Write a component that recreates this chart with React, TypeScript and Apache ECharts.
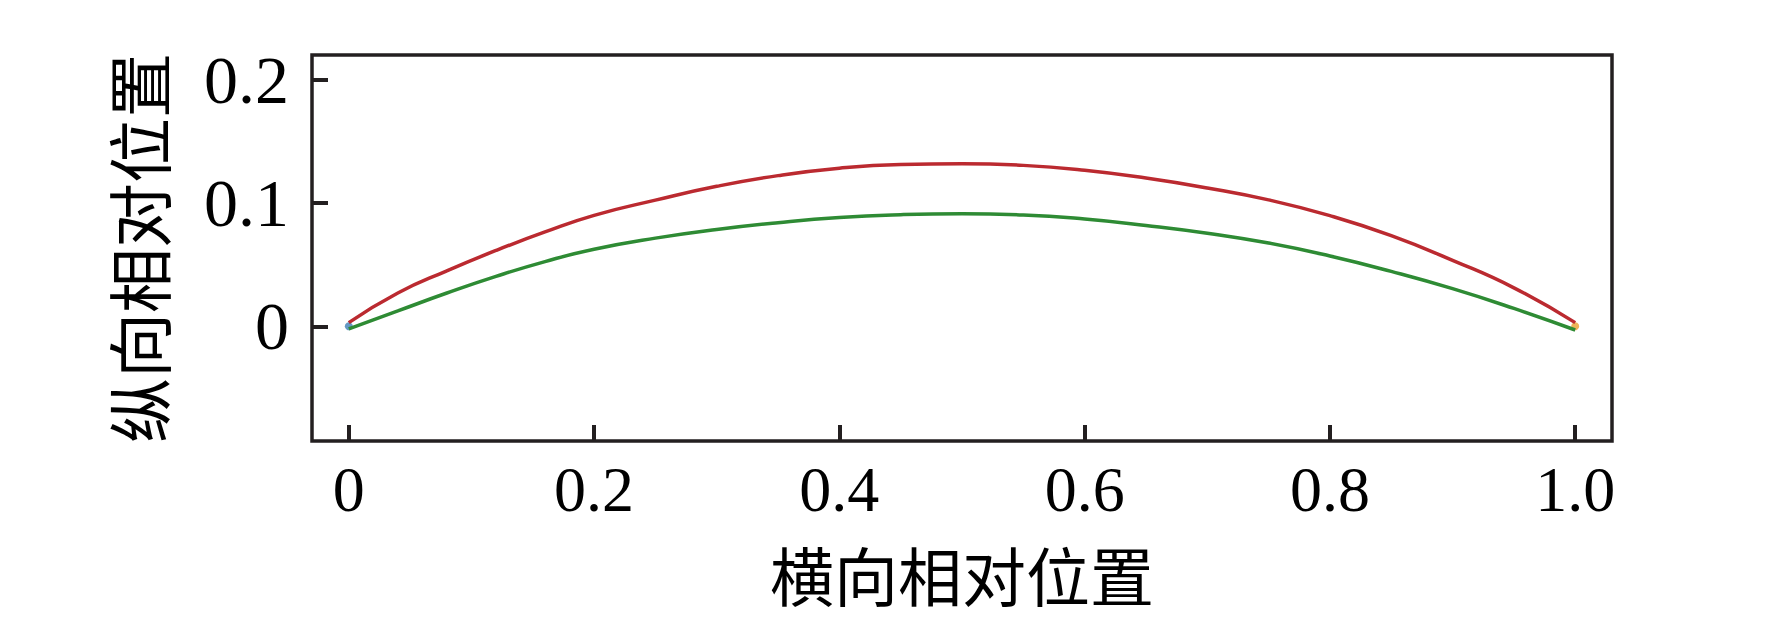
import React, { useEffect, useRef } from "react";
import * as echarts from "echarts";

// ---- data ----
const xPositions = [0, 0.04, 0.08, 0.12, 0.16, 0.2, 0.25, 0.3, 0.35, 0.4, 0.45, 0.5, 0.55, 0.6, 0.65, 0.7, 0.75, 0.8, 0.85, 0.9, 0.95, 1.0];
const upperCurve = [0.003, 0.027, 0.045, 0.0615, 0.0765, 0.09, 0.1023, 0.1135, 0.1222, 0.1282, 0.1312, 0.1318, 0.1305, 0.1265, 0.1202, 0.1122, 0.1025, 0.0897, 0.0735, 0.0535, 0.0312, 0.003];
const lowerCurve = [-0.002, 0.0125, 0.027, 0.0405, 0.0525, 0.0625, 0.0715, 0.0785, 0.084, 0.0882, 0.0905, 0.0913, 0.0903, 0.087, 0.0818, 0.0755, 0.0675, 0.057, 0.0445, 0.0305, 0.0145, -0.003];
const startPoint = [0, 0];
const endPoint = [1.0, 0];

const xTicks = [0, 0.2, 0.4, 0.6, 0.8, 1.0];
const xTickLabels = ["0", "0.2", "0.4", "0.6", "0.8", "1.0"];
const yTicks = [0, 0.1, 0.2];
const yTickLabels = ["0", "0.1", "0.2"];

const xAxisTitle = "横向相对位置";
const yAxisTitle = "纵向相对位置";

const labelFor = (ticks: number[], labels: string[]) => (v: number) => {
  const i = ticks.findIndex((t) => Math.abs(t - v) < 1e-6);
  return i >= 0 ? labels[i] : "";
};

const FRAME = "#231f20";
const NUM_FONT = "'Liberation Serif', 'Times New Roman', serif";
const CJK_FONT = "'Noto Sans CJK SC', sans-serif";

export default function App() {
  const ref = useRef<HTMLDivElement>(null);

  useEffect(() => {
    if (!ref.current) return;
    const chart = echarts.init(ref.current, undefined, { renderer: "svg" });
    const zip = (ys: number[]) => xPositions.map((x, i) => [x, ys[i]]);
    chart.setOption({
      animation: false,
      backgroundColor: "#ffffff",
      grid: {
        show: true,
        left: 312,
        right: 160,
        top: 55,
        bottom: 185,
        borderColor: FRAME,
        borderWidth: 3.5,
        backgroundColor: "transparent",
      },
      xAxis: {
        type: "value",
        min: -0.03,
        max: 1.03,
        name: xAxisTitle,
        nameLocation: "middle",
        nameGap: 100,
        nameTextStyle: { fontFamily: CJK_FONT, fontSize: 64, color: "#000", lineHeight: 64 },
        axisLine: { show: false, onZero: false },
        splitLine: { show: false },
        axisTick: {
          show: true,
          inside: true,
          length: 16,
          customValues: xTicks,
          lineStyle: { color: FRAME, width: 4 },
        },
        axisLabel: {
          customValues: xTicks,
          formatter: labelFor(xTicks, xTickLabels),
          fontFamily: NUM_FONT,
          fontSize: 64,
          color: "#000",
          margin: 16,
        },
      },
      yAxis: {
        type: "value",
        min: -0.093,
        max: 0.22,
        name: yAxisTitle,
        nameLocation: "middle",
        nameGap: 143,
        nameRotate: 90,
        nameTextStyle: { fontFamily: CJK_FONT, fontSize: 65, color: "#000" },
        axisLine: { show: false, onZero: false },
        splitLine: { show: false },
        axisTick: {
          show: true,
          inside: true,
          length: 16,
          customValues: yTicks,
          lineStyle: { color: FRAME, width: 4 },
        },
        axisLabel: {
          customValues: yTicks,
          formatter: labelFor(yTicks, yTickLabels),
          fontFamily: NUM_FONT,
          fontSize: 68,
          color: "#000",
          margin: 23,
        },
      },
      series: [
        {
          type: "scatter",
          data: [startPoint],
          symbolSize: 8,
          itemStyle: { color: "#3d7fb5" },
          z: 1,
        },
        {
          type: "scatter",
          data: [endPoint],
          symbolSize: 8,
          itemStyle: { color: "#e8a030" },
          z: 1,
        },
        {
          type: "line",
          data: zip(upperCurve),
          smooth: 0.5,
          showSymbol: false,
          lineStyle: { color: "#bb2a30", width: 3.5 },
          z: 3,
        },
        {
          type: "line",
          data: zip(lowerCurve),
          smooth: 0.5,
          showSymbol: false,
          lineStyle: { color: "#2e8b34", width: 3.5 },
          z: 3,
        },
      ],
    });
    return () => chart.dispose();
  }, []);

  return (
    <div
      ref={ref}
      style={{ position: "absolute", left: 0, top: 0, width: 1772, height: 626 }}
    />
  );
}
